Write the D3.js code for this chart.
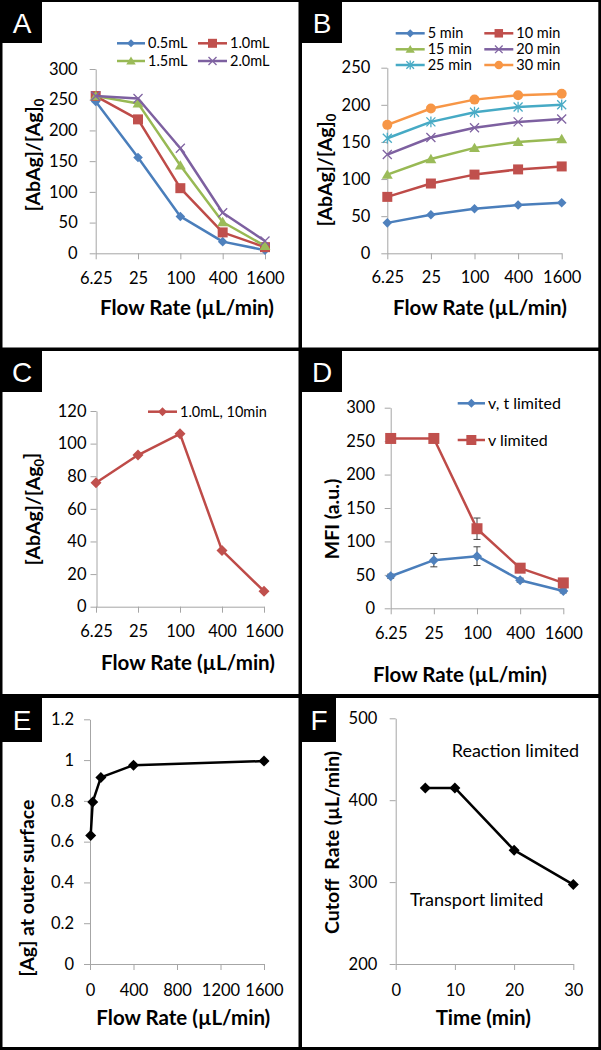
<!DOCTYPE html>
<html><head><meta charset="utf-8">
<script src="https://cdn.jsdelivr.net/npm/d3@7"></script>
<style>body{margin:0;background:#fff} svg{display:block} text{font-family:Lato, "Open Sans", sans-serif}</style>
</head><body><svg id="c" width="601" height="1050"></svg>
<script>
// ---------- DATA ----------
const flowRates = ["6.25", "25", "100", "400", "1600"];
// Panel A
const seriesA = ["0.5mL", "1.0mL", "1.5mL", "2.0mL"];
const a05 = [247, 156, 60, 19, 5];
const a10 = [256, 218, 106, 34, 10];
const a15 = [256, 244, 143, 51, 12];
const a20 = [256, 252, 171, 66, 20];
const ticksA = [0, 50, 100, 150, 200, 250, 300];
// Panel B
const seriesB = ["5 min", "10 min", "15 min", "20 min", "25 min", "30 min"];
const b5 = [41, 52, 60, 65, 68];
const b10 = [76, 94, 106, 113, 117];
const b15 = [106, 127, 142, 150, 154];
const b20 = [133, 156, 169, 177, 181];
const b25 = [155, 177, 190, 197, 200];
const b30 = [173, 195, 207, 213, 215];
const ticksB = [0, 50, 100, 150, 200, 250];
// Panel C
const seriesC = ["1.0mL, 10min"];
const c10 = [76, 93, 106, 34.5, 9.5];
const ticksC = [0, 20, 40, 60, 80, 100, 120];
// Panel D
const seriesD = ["v, t limited", "v limited"];
const dVT = [48, 72, 78, 42, 26];
const dVTerr = [3, 10, 14, 3, 3];
const dV = [254, 254, 119, 60, 38];
const dVerr = [2, 2, 16, 3, 2];
const ticksD = [0, 50, 100, 150, 200, 250, 300];
// Panel E
const eFlow = [6.25, 25, 100, 400, 1600];
const eAg = [0.63, 0.795, 0.915, 0.975, 0.995];
const ticksEx = [0, 400, 800, 1200, 1600];
const ticksEy = [0, 0.2, 0.4, 0.6, 0.8, 1, 1.2];
// Panel F
const fTime = [5, 10, 20, 30];
const fCut = [415, 415, 339, 297];
const ticksFx = [0, 10, 20, 30];
const ticksFy = [200, 300, 400, 500];
const notesF = ["Reaction limited", "Transport limited"];

// ---------- STYLE ----------
const COL = {
  blue: ["#4A7EBB", "#4F81BD"], red: ["#BE4B48", "#C0504D"], green: ["#98B954", "#9BBB59"],
  purple: ["#7D60A0", "#8064A2"], teal: ["#46AAC5", "#4BACC6"], orange: ["#F79646", "#F79646"],
  black: ["#000", "#000"]
};
const AXIS = "#a6a6a6";
const svg = d3.select("#c");

function marker(g, type, cx, cy, r, fill, stroke) {
  let p;
  if (type === "diamond") p = `M${cx},${cy - r}L${cx + r},${cy}L${cx},${cy + r}L${cx - r},${cy}Z`;
  else if (type === "square") p = `M${cx - r},${cy - r}h${2 * r}v${2 * r}h${-2 * r}Z`;
  else if (type === "triangle") p = `M${cx},${cy - r}L${cx + r * 1.05},${cy + r * 0.8}L${cx - r * 1.05},${cy + r * 0.8}Z`;
  else if (type === "circle") { g.append("circle").attr("cx", cx).attr("cy", cy).attr("r", r).attr("fill", fill); return; }
  else if (type === "x") { g.append("path").attr("d", `M${cx - r},${cy - r}L${cx + r},${cy + r}M${cx - r},${cy + r}L${cx + r},${cy - r}`).attr("stroke", stroke).attr("stroke-width", 1.3).attr("fill", "none"); return; }
  else if (type === "star") { g.append("path").attr("d", `M${cx - r},${cy - r}L${cx + r},${cy + r}M${cx - r},${cy + r}L${cx + r},${cy - r}M${cx},${cy - r * 1.2}L${cx},${cy + r * 1.2}`).attr("stroke", stroke).attr("stroke-width", 1.3).attr("fill", "none"); return; }
  g.append("path").attr("d", p).attr("fill", fill);
}

function axes(g, cfg) {
  const yA = d3.axisLeft(cfg.y).tickValues(cfg.yTicks).tickSize(6).tickSizeOuter(0).tickPadding(cfg.yPad)
    .tickFormat(cfg.yFmt || (d => String(d)));
  const gy = g.append("g").attr("transform", `translate(${cfg.axX},0)`).call(yA);
  let xA = d3.axisBottom(cfg.x).tickSize(6).tickSizeOuter(0).tickPadding(cfg.xPad).tickFormat(d => String(d));
  if (cfg.xTicks) xA = xA.tickValues(cfg.xTicks);
  const gx = g.append("g").attr("transform", `translate(0,${cfg.axY})`).call(xA);
  [gx, gy].forEach(a => {
    a.select(".domain").attr("stroke", AXIS).attr("stroke-width", 1);
    a.selectAll(".tick line").attr("stroke", AXIS);
    a.selectAll(".tick text").attr("fill", "#000").style("font-size", "16.5px").style("font-family", "Lato");
  });
  // titles
  g.append("text").attr("x", cfg.xtX).attr("y", cfg.xtY).attr("text-anchor", "middle")
    .style("font-size", "20.5px").style("font-weight", "bold").text(cfg.xTitle);
  const yt = g.append("text").attr("transform", `translate(${cfg.ytX},${cfg.ytY}) rotate(-90)`)
    .attr("text-anchor", "middle").attr("dy", "0.35em").style("font-size", "19.5px").style("font-weight", "bold")
    .attr("xml:space", "preserve").style("white-space", "pre");
  cfg.yTitle.forEach(part => {
    const t = yt.append("tspan").text(part.t);
    if (part.sub) t.attr("dy", "0.3em").style("font-size", "13px");
    if (part.back) t.attr("dy", "-0.3em");
  });
}

function series(g, xs, ys, x, y, col, mk, r, lw) {
  const pts = xs.map((d, i) => [x(d), y(ys[i])]);
  g.append("path").attr("d", d3.line()(pts)).attr("fill", "none").attr("stroke", col[0])
    .attr("stroke-width", lw || 2.5).attr("stroke-linejoin", "round");
  pts.forEach(p => marker(g, mk, p[0], p[1], r, col[1], col[1]));
}

function legendItem(g, lx, ly, len, label, col, mk, r, fs) {
  g.append("line").attr("x1", lx).attr("x2", lx + len).attr("y1", ly).attr("y2", ly)
    .attr("stroke", col[0]).attr("stroke-width", 2.5);
  marker(g, mk, lx + len / 2, ly, r, col[1], col[1]);
  g.append("text").attr("x", lx + len + 3).attr("y", ly).attr("dy", "0.35em")
    .style("font-size", (fs || 14.5) + "px").text(label);
}

const yTitleAb = [{ t: "[AbAg]/[Ag]" }, { t: "0", sub: true }];
const flowTitle = "Flow Rate (\u00b5L/min)";

// ---------- PANEL A ----------
{
  const g = svg.append("g");
  const x = d3.scalePoint().domain(flowRates).range([95.7, 265]);
  const y = d3.scaleLinear().domain([0, 300]).range([253.3, 69]);
  axes(g, { x, y, yTicks: ticksA, yPad: 12, xPad: 12.5, axX: 95.7, axY: 253.3,
    xTitle: flowTitle, xtX: 187, xtY: 315, yTitle: yTitleAb, ytX: 33, ytY: 155 });
  series(g, flowRates, a05, x, y, COL.blue, "diamond", 4.8);
  series(g, flowRates, a10, x, y, COL.red, "square", 5);
  series(g, flowRates, a15, x, y, COL.green, "triangle", 5.2);
  series(g, flowRates, a20, x, y, COL.purple, "x", 4.5);
  legendItem(g, 117, 43.3, 28, seriesA[0], COL.blue, "diamond", 4);
  legendItem(g, 198, 43.3, 29, seriesA[1], COL.red, "square", 4.5);
  legendItem(g, 117, 61, 28, seriesA[2], COL.green, "triangle", 4.5);
  legendItem(g, 198, 61, 29, seriesA[3], COL.purple, "x", 4);
}
// ---------- PANEL B ----------
{
  const g = svg.append("g");
  const x = d3.scalePoint().domain(flowRates).range([387.3, 561.7]);
  const y = d3.scaleLinear().domain([0, 250]).range([253.3, 67.7]);
  axes(g, { x, y, yTicks: ticksB, yPad: 11, xPad: 11.5, axX: 387.3, axY: 253.3,
    xTitle: flowTitle, xtX: 480, xtY: 315, yTitle: yTitleAb, ytX: 325, ytY: 170 });
  const bs = [b5, b10, b15, b20, b25, b30];
  const cols = [COL.blue, COL.red, COL.green, COL.purple, COL.teal, COL.orange];
  const mks = ["diamond", "square", "triangle", "x", "star", "circle"];
  const rs = [4.8, 5, 5.2, 4.5, 4.5, 5];
  bs.forEach((s, i) => series(g, flowRates, s, x, y, cols[i], mks[i], rs[i]));
  const lx = [395.7, 484.3], ly = [33.3, 49.3, 65];
  seriesB.forEach((s, i) => legendItem(g, lx[i % 2], ly[Math.floor(i / 2)], 29, s, cols[i], mks[i], rs[i] * 0.85));
}
// ---------- PANEL C ----------
{
  const g = svg.append("g");
  const x = d3.scalePoint().domain(flowRates).range([96, 264]);
  const y = d3.scaleLinear().domain([0, 120]).range([606.7, 411]);
  axes(g, { x, y, yTicks: ticksC, yPad: 4, xPad: 13, axX: 96.5, axY: 606.7,
    xTitle: flowTitle, xtX: 188, xtY: 670,
    yTitle: [{ t: "[AbAg]/[Ag" }, { t: "0", sub: true }, { t: "]", back: true }], ytX: 33, ytY: 509 });
  series(g, flowRates, c10, x, y, COL.red, "diamond", 5.5);
  legendItem(g, 148, 411.7, 29, seriesC[0], COL.red, "diamond", 4.5);
}
// ---------- PANEL D ----------
{
  const g = svg.append("g");
  const x = d3.scalePoint().domain(flowRates).range([390.7, 563.3]);
  const y = d3.scaleLinear().domain([0, 300]).range([608.3, 407.7]);
  axes(g, { x, y, yTicks: ticksD, yPad: 9.7, xPad: 13, axX: 390.7, axY: 608.3,
    xTitle: flowTitle, xtX: 460, xtY: 682, yTitle: [{ t: "MFI (a.u.)" }], ytX: 331.7, ytY: 519 });
  const eb = (vals, errs) => vals.forEach((v, i) => {
    const cx = x(flowRates[i]), y1 = y(v + errs[i]), y2 = y(v - errs[i]);
    g.append("path").attr("d", `M${cx},${y1}V${y2}M${cx - 3.5},${y1}h7M${cx - 3.5},${y2}h7`)
      .attr("stroke", "#404040").attr("stroke-width", 1).attr("fill", "none");
  });
  eb(dV, dVerr);
  eb(dVT, dVTerr);
  series(g, flowRates, dVT, x, y, COL.blue, "diamond", 5);
  series(g, flowRates, dV, x, y, COL.red, "square", 5.5);
  legendItem(g, 457.7, 403.3, 27.3, seriesD[0], COL.blue, "diamond", 4.5, 16);
  legendItem(g, 457.7, 440, 27.3, seriesD[1], COL.red, "square", 5, 16);
}
// ---------- PANEL E ----------
{
  const g = svg.append("g");
  const x = d3.scaleLinear().domain([0, 1600]).range([90, 264]);
  const y = d3.scaleLinear().domain([0, 1.2]).range([964, 719.3]);
  axes(g, { x, y, yTicks: ticksEy, xTicks: ticksEx, yPad: 10, xPad: 14, axX: 90, axY: 964,
    yFmt: d => String(+d.toFixed(1)),
    xTitle: flowTitle, xtX: 183.3, xtY: 1025, yTitle: [{ t: "[Ag] at outer surface" }], ytX: 27, ytY: 888 });
  series(g, eFlow, eAg, x, y, COL.black, "diamond", 5.5);
}
// ---------- PANEL F ----------
{
  const g = svg.append("g");
  const x = d3.scaleLinear().domain([0, 30]).range([395.7, 573.3]);
  const y = d3.scaleLinear().domain([200, 500]).range([964, 718.3]);
  axes(g, { x, y, yTicks: ticksFy, xTicks: ticksFx, yPad: 12.4, xPad: 14, axX: 395.7, axY: 964,
    xTitle: "Time (min)", xtX: 483.3, xtY: 1025, yTitle: [{ t: "Cutoff  Rate (\u00b5L/min)" }], ytX: 331.7, ytY: 842.5 });
  series(g, fTime, fCut, x, y, COL.black, "diamond", 5.5);
  g.append("text").attr("x", 451.7).attr("y", 751).attr("dy", "0.35em").style("font-size", "18px").text(notesF[0]);
  g.append("text").attr("x", 410).attr("y", 900).attr("dy", "0.35em").style("font-size", "18px").text(notesF[1]);
}

// ---------- FRAME & LABELS ----------
const frame = svg.append("g").attr("fill", "#000");
frame.append("rect").attr("x", 0).attr("y", 0).attr("width", 2.5).attr("height", 1050);
frame.append("rect").attr("x", 598.3).attr("y", 0).attr("width", 2.7).attr("height", 1050);
frame.append("rect").attr("x", 0).attr("y", 0).attr("width", 601).attr("height", 2);
frame.append("rect").attr("x", 0).attr("y", 1047).attr("width", 601).attr("height", 3);
frame.append("rect").attr("x", 298.5).attr("y", 0).attr("width", 3.5).attr("height", 1050);
frame.append("rect").attr("x", 0).attr("y", 347.5).attr("width", 601).attr("height", 3.5);
frame.append("rect").attr("x", 0).attr("y", 694).attr("width", 601).attr("height", 4);
const labels = [
  { t: "A", x: 0, y: 0, w: 42, h: 43 }, { t: "B", x: 300, y: 0, w: 42, h: 43 },
  { t: "C", x: 0, y: 349, w: 42, h: 43 }, { t: "D", x: 300, y: 349, w: 42, h: 43 },
  { t: "E", x: 0, y: 696, w: 42, h: 46 }, { t: "F", x: 300, y: 696, w: 36, h: 46 }
];
labels.forEach(l => {
  frame.append("rect").attr("x", l.x).attr("y", l.y).attr("width", l.w).attr("height", l.h);
  frame.append("text").attr("x", l.x + l.w / 2 + 1).attr("y", l.y + l.h / 2 + 1).attr("dy", "0.36em")
    .attr("text-anchor", "middle").attr("fill", "#fff").style("font-family", "'Liberation Sans', Arial, sans-serif")
    .style("font-size", "28px").text(l.t);
});
</script></body></html>
